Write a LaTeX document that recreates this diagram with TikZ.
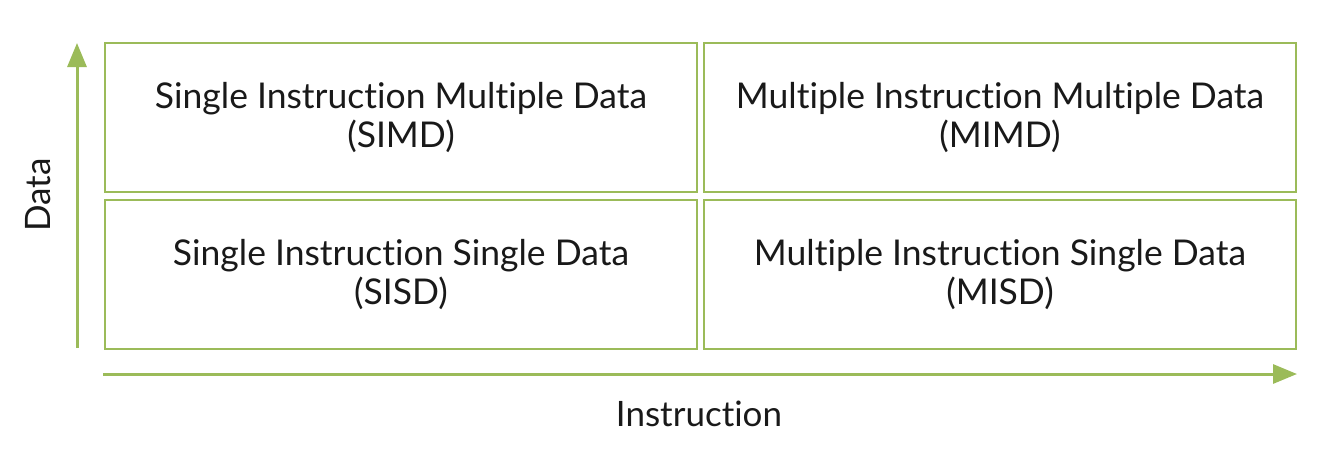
\documentclass[tikz,border=0pt]{standalone}
\usepackage{fontspec}
\setmainfont[Ligatures={NoCommon,NoRare,NoDiscretionary},Contextuals={NoAlternate}]{Lato}
\usetikzlibrary{arrows.meta}
\definecolor{grn}{HTML}{9BBB59}
\begin{document}
\begin{tikzpicture}[x=1pt,y=-1pt,
  cell/.style={draw=grn,line width=2pt,minimum width=592pt,minimum height=149pt,
    align=center,font=\fontsize{35.5}{39}\selectfont,text=black!90,anchor=north west,inner sep=0pt},
  axis/.style={draw=grn,line width=3pt,-{Triangle[length=24pt,width=19pt]}},
  lab/.style={font=\fontsize{35}{40}\selectfont,text=black!90}]
\useasboundingbox (0,0) rectangle (1342,448);
\node[cell] (simd) at (104,42) {Single Instruction Multiple Data\\(SIMD)};
\node[cell] (mimd) at (703,42) {Multiple Instruction Multiple Data\\(MIMD)};
\node[cell] (sisd) at (104,199) {Single Instruction Single Data\\(SISD)};
\node[cell] (misd) at (703,199) {Multiple Instruction Single Data\\(MISD)};
\coordinate (vs) at (77,348);
\coordinate (ve) at (77,43);
\coordinate (hs) at (103,374);
\coordinate (he) at (1297,374);
\draw[axis] (vs) -- (ve);
\draw[axis] (hs) -- (he);
\node[lab,rotate=90] (data) at (38,195) {Data};
\node[lab] (instr) at (699,414) {Instruction};
\end{tikzpicture}
\end{document}
